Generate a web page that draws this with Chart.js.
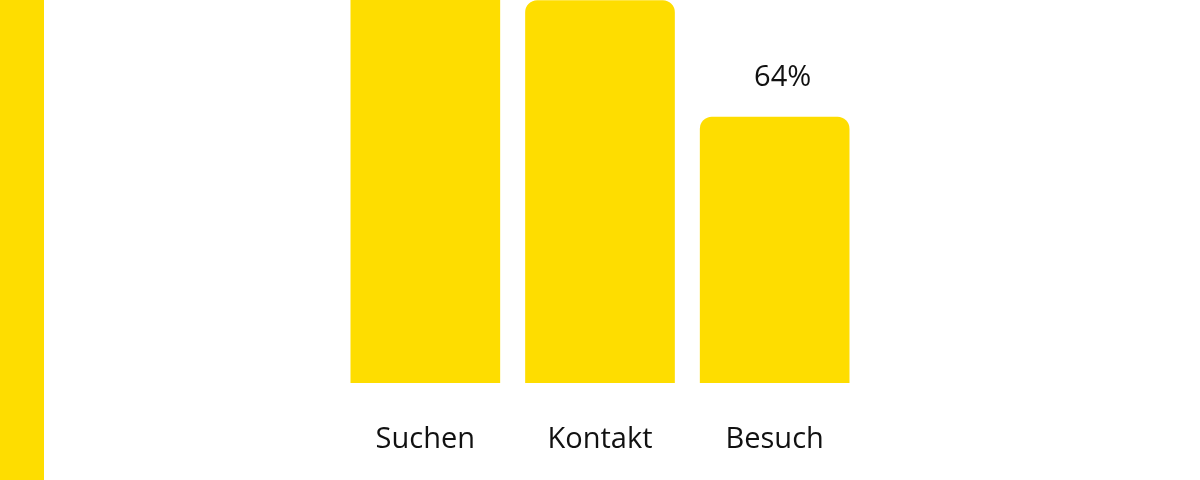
<!DOCTYPE html>
<html>
<head>
<meta charset="utf-8">
<script src="https://cdn.jsdelivr.net/npm/chart.js@4"></script>
<style>
  html, body { margin: 0; padding: 0; background: #fff; }
  #wrap { position: relative; width: 1200px; height: 480px; overflow: hidden; }
  #stripe { position: absolute; left: 0; top: 0; width: 44px; height: 480px; background: #FEDD00; }
  canvas { position: absolute; left: 0; top: 0; }
</style>
</head>
<body>
<div id="wrap">
  <div id="stripe"></div>
  <canvas id="barChart" width="1200" height="480"></canvas>
</div>
<script>
let categories = ["Suchen", "Kontakt", "Besuch"];
let values = [100, 92, 64];
let yellow = "#FEDD00";
let fontFamily = "'Open Sans', 'Noto Sans', sans-serif";

// percent labels above the bars (only the last one fits in the window)
let valueLabels = {
  id: 'valueLabels',
  afterDatasetsDraw(chart) {
    let ctx = chart.ctx;
    let meta = chart.getDatasetMeta(0);
    ctx.save();
    ctx.font = "29px " + fontFamily;
    ctx.fillStyle = "#111";
    ctx.textAlign = "center";
    ctx.textBaseline = "middle";
    meta.data.forEach((bar, i) => {
      ctx.fillText(values[i] + "%", bar.x + 8, bar.y - 39);
    });
    ctx.restore();
  }
};

let bars = document.getElementById('barChart');
let myBarChart = new Chart(bars, {
  type: 'bar',
  data: {
    labels: categories,
    datasets: [
      {
        data: values,
        backgroundColor: yellow,
        borderRadius: 12,
        borderSkipped: 'start',
        barThickness: 149
      }
    ]
  },
  options: {
    responsive: false,
    animation: false,
    layout: {
      padding: { left: 338, right: 338, top: 0, bottom: 0 }
    },
    plugins: {
      legend: { display: false },
      tooltip: { enabled: false }
    },
    scales: {
      x: {
        grid: { display: false, drawTicks: false },
        border: { display: false },
        afterFit(scale) { scale.height = 97; },
        ticks: {
          color: "#111",
          padding: 39,
          font: { size: 29, family: fontFamily }
        }
      },
      y: {
        display: false,
        min: 0,
        max: 92.15
      }
    }
  },
  plugins: [valueLabels]
});
</script>
</body>
</html>
